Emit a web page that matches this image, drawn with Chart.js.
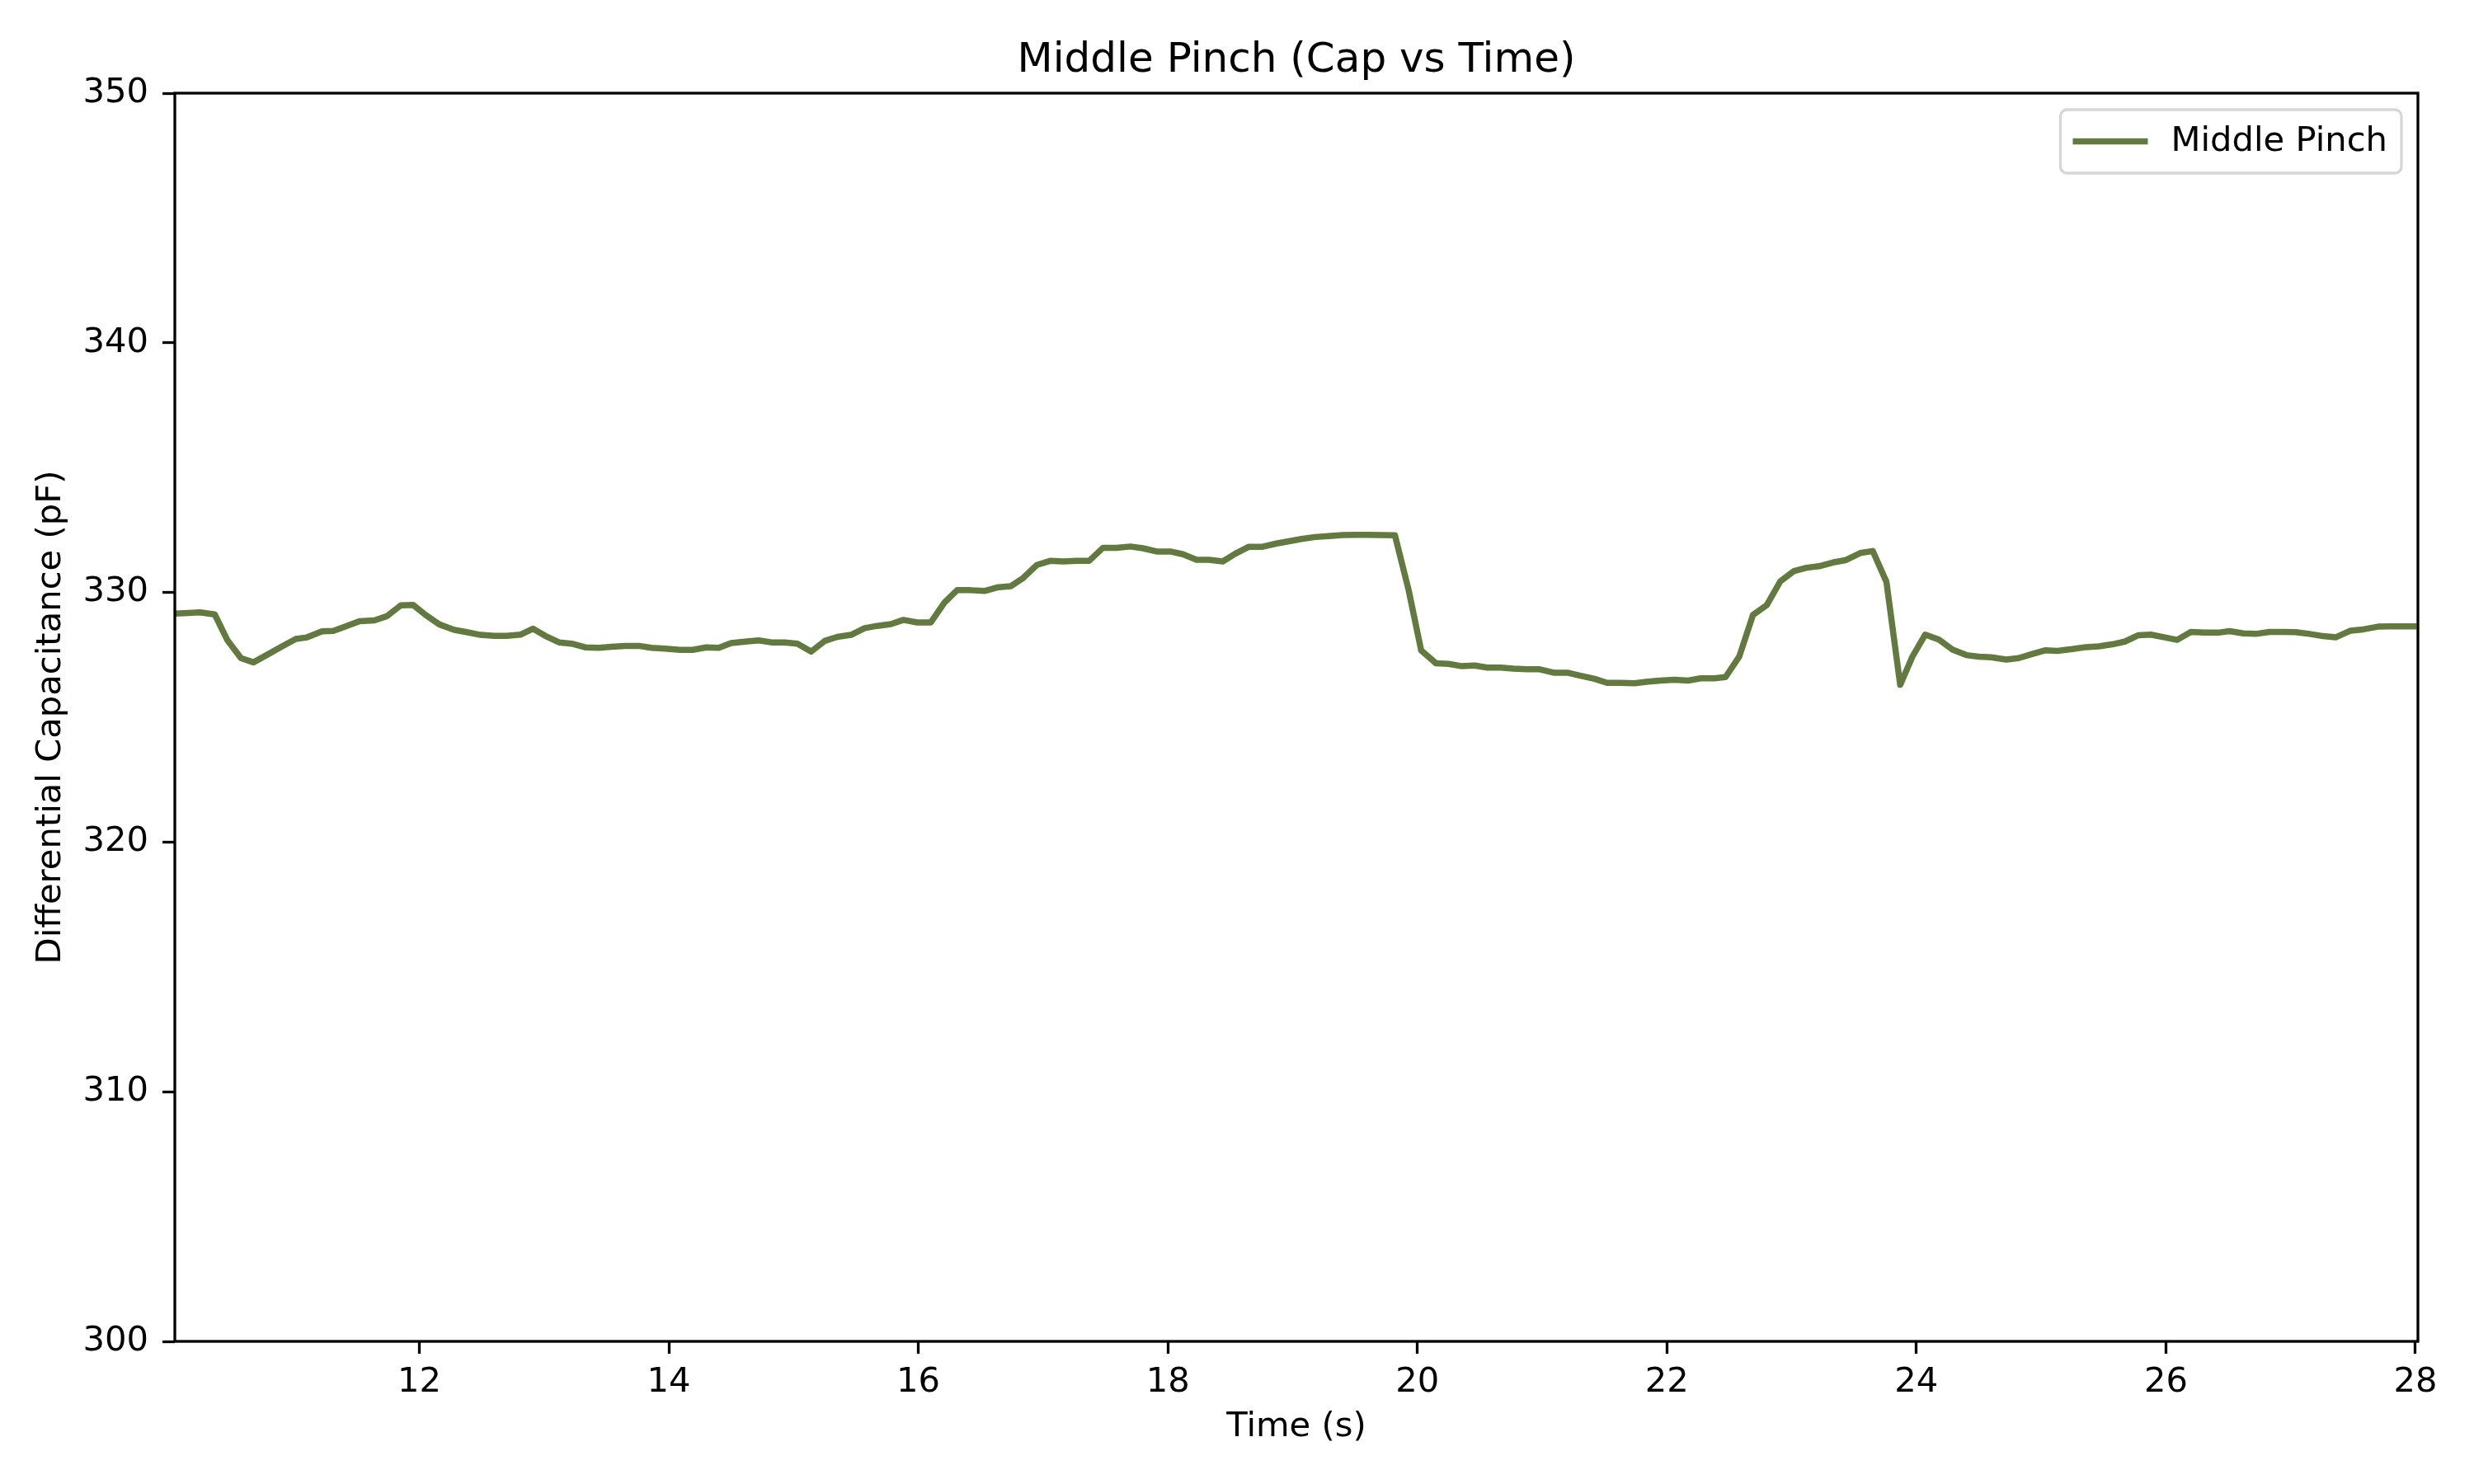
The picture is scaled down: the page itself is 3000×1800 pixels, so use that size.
<!DOCTYPE html>
<html lang="en">
<head>
<meta charset="UTF-8">
<title>Middle Pinch (Cap vs Time)</title>
<script src="https://cdn.jsdelivr.net/npm/chart.js"></script>
<style>
  html, body { margin: 0; padding: 0; background: #fff; }
  canvas { display: block; }
</style>
</head>
<body>
<canvas id="capChart" width="3000" height="1800"></canvas>
<script>
// values
const seriesLabel = 'Middle Pinch';
const timeS = [
  10.04, 10.15, 10.24, 10.36, 10.46, 10.57, 10.67, 10.79, 10.90, 11.01,
  11.10, 11.22, 11.31, 11.41, 11.52, 11.64, 11.74, 11.85, 11.95, 12.05,
  12.16, 12.28, 12.38, 12.49, 12.60, 12.70, 12.81, 12.91, 13.01, 13.12,
  13.22, 13.33, 13.44, 13.54, 13.65, 13.76, 13.86, 13.97, 14.09, 14.19,
  14.30, 14.40, 14.50, 14.61, 14.72, 14.82, 14.93, 15.03, 15.14, 15.25,
  15.35, 15.46, 15.57, 15.67, 15.78, 15.88, 15.99, 16.10, 16.21, 16.31,
  16.42, 16.53, 16.63, 16.74, 16.84, 16.95, 17.06, 17.16, 17.27, 17.37,
  17.48, 17.59, 17.70, 17.80, 17.91, 18.02, 18.12, 18.23, 18.33, 18.44,
  18.54, 18.65, 18.76, 18.87, 18.98, 19.07, 19.18, 19.29, 19.40, 19.50,
  19.61, 19.71, 19.82, 19.93, 20.03, 20.15, 20.25, 20.35, 20.46, 20.56,
  20.67, 20.77, 20.88, 20.98, 21.10, 21.21, 21.30, 21.42, 21.52, 21.63,
  21.74, 21.85, 21.95, 22.06, 22.17, 22.27, 22.38, 22.47, 22.58, 22.69,
  22.80, 22.91, 23.02, 23.12, 23.22, 23.33, 23.43, 23.55, 23.65, 23.76,
  23.87, 23.97, 24.07, 24.18, 24.29, 24.40, 24.50, 24.60, 24.72, 24.82,
  24.92, 25.03, 25.13, 25.25, 25.36, 25.46, 25.57, 25.67, 25.78, 25.88,
  25.99, 26.09, 26.20, 26.31, 26.42, 26.51, 26.62, 26.72, 26.83, 26.94,
  27.04, 27.15, 27.26, 27.36, 27.48, 27.58, 27.70, 27.80, 27.91, 28.01
];
const capPF = [
  329.15, 329.18, 329.20, 329.12, 328.10, 327.37, 327.20, 327.53, 327.84, 328.14,
  328.20, 328.44, 328.46, 328.64, 328.85, 328.88, 329.05, 329.48, 329.50, 329.10,
  328.72, 328.50, 328.41, 328.30, 328.26, 328.26, 328.31, 328.55, 328.26, 328.00,
  327.95, 327.80, 327.78, 327.82, 327.86, 327.86, 327.78, 327.75, 327.70, 327.70,
  327.80, 327.78, 327.97, 328.03, 328.08, 328.00, 328.00, 327.95, 327.63, 328.06,
  328.22, 328.30, 328.57, 328.66, 328.73, 328.90, 328.80, 328.80, 329.60, 330.09,
  330.09, 330.06, 330.20, 330.25, 330.58, 331.10, 331.27, 331.24, 331.27, 331.27,
  331.79, 331.79, 331.84, 331.77, 331.64, 331.64, 331.53, 331.31, 331.31, 331.24,
  331.55, 331.83, 331.83, 331.96, 332.06, 332.14, 332.22, 332.26, 332.30, 332.31,
  332.31, 332.30, 332.29, 330.09, 327.68, 327.16, 327.14, 327.05, 327.07, 326.99,
  326.99, 326.95, 326.92, 326.92, 326.78, 326.78, 326.67, 326.54, 326.38, 326.38,
  326.36, 326.43, 326.47, 326.50, 326.47, 326.56, 326.56, 326.61, 327.43, 329.10,
  329.49, 330.45, 330.86, 330.99, 331.05, 331.20, 331.29, 331.58, 331.66, 330.42,
  326.30, 327.45, 328.31, 328.11, 327.71, 327.49, 327.43, 327.40, 327.31, 327.37,
  327.52, 327.68, 327.66, 327.73, 327.81, 327.84, 327.92, 328.03, 328.29, 328.31,
  328.20, 328.10, 328.42, 328.39, 328.39, 328.45, 328.36, 328.34, 328.42, 328.42,
  328.41, 328.34, 328.25, 328.20, 328.47, 328.52, 328.63, 328.64, 328.64, 328.64
];
const xTicks = [12, 14, 16, 18, 20, 22, 24, 26, 28];
const yTicks = [300, 310, 320, 330, 340, 350];

const lineColor = '#627a40';
const fontFamily = "'DejaVu Sans', 'Liberation Sans', sans-serif";
const baseSize = 41.7;   // 10pt at 300 dpi
const spineWidth = 3.3;

// box round the plot, drawn over the line like matplotlib spines
const framePlugin = {
  id: 'frame',
  afterDatasetsDraw(chart) {
    const { ctx, chartArea: a } = chart;
    ctx.save();
    ctx.strokeStyle = '#000';
    ctx.lineWidth = spineWidth;
    ctx.strokeRect(a.left, a.top, a.right - a.left, a.bottom - a.top);
    ctx.restore();
  }
};

// matplotlib style legend box in the upper right corner
const legendBoxPlugin = {
  id: 'legendBox',
  afterDraw(chart) {
    const { ctx, chartArea: a } = chart;
    const ds = chart.data.datasets[0];
    ctx.save();
    ctx.font = baseSize + 'px ' + fontFamily;
    const textW = ctx.measureText(ds.label).width;
    const right = a.right - 20;
    const top = a.top + 20;
    const h = 77;
    const w = 15 + 91 + 30 + textW + 15;
    const left = right - w;
    const midY = top + h / 2;

    ctx.beginPath();
    ctx.roundRect(left, top, w, h, 8);
    ctx.fillStyle = 'rgba(255,255,255,0.8)';
    ctx.fill();
    ctx.strokeStyle = '#d6d6d6';
    ctx.lineWidth = spineWidth;
    ctx.stroke();

    ctx.beginPath();
    ctx.moveTo(left + 15, midY);
    ctx.lineTo(left + 15 + 91, midY);
    ctx.strokeStyle = ds.borderColor;
    ctx.lineWidth = ds.borderWidth;
    ctx.stroke();

    ctx.fillStyle = '#000';
    ctx.textBaseline = 'middle';
    ctx.textAlign = 'left';
    ctx.fillText(ds.label, left + 15 + 91 + 28, midY + 1);
    ctx.restore();
  }
};

const ctx = document.getElementById('capChart').getContext('2d');
const capChart = new Chart(ctx, {
  type: 'line',
  data: {
    datasets: [{
      label: seriesLabel,
      data: timeS.map((t, i) => ({ x: t, y: capPF[i] })),
      borderColor: lineColor,
      backgroundColor: lineColor,
      borderWidth: 7.5,
      borderJoinStyle: 'round',
      pointRadius: 0,
      tension: 0,
      fill: false
    }]
  },
  options: {
    responsive: false,
    devicePixelRatio: 1,
    animation: false,
    layout: { padding: { left: 0, right: 68, top: 0, bottom: 0 } },
    scales: {
      x: {
        type: 'linear',
        min: 10.04,
        max: 28.02,
        afterBuildTicks: scale => { scale.ticks = xTicks.map(v => ({ value: v })); },
        afterFit: scale => { scale.height = 173; },
        ticks: {
          color: '#000',
          font: { family: fontFamily, size: baseSize },
          padding: 10,
          maxRotation: 0,
          autoSkip: false
        },
        grid: {
          display: true,
          drawOnChartArea: false,
          drawTicks: true,
          tickLength: 15,
          tickWidth: spineWidth,
          tickColor: '#000'
        },
        border: { display: false },
        title: {
          display: true,
          text: 'Time (s)',
          color: '#000',
          font: { family: fontFamily, size: baseSize },
          padding: { top: 0, bottom: 44 }
        }
      },
      y: {
        min: 300,
        max: 350,
        afterBuildTicks: scale => { scale.ticks = yTicks.map(v => ({ value: v })); },
        afterFit: scale => { scale.width = 212; },
        ticks: {
          color: '#000',
          font: { family: fontFamily, size: baseSize },
          padding: 17
        },
        grid: {
          display: true,
          drawOnChartArea: false,
          drawTicks: true,
          tickLength: 15,
          tickWidth: spineWidth,
          tickColor: '#000'
        },
        border: { display: false },
        title: {
          display: true,
          text: 'Differential Capacitance (pF)',
          color: '#000',
          font: { family: fontFamily, size: baseSize },
          padding: { top: 37, bottom: 0 }
        }
      }
    },
    plugins: {
      legend: { display: false },
      tooltip: { enabled: false },
      title: {
        display: true,
        fullSize: false,
        text: 'Middle Pinch (Cap vs Time)',
        color: '#000',
        font: { family: fontFamily, size: 50, weight: 'normal' },
        padding: { top: 44, bottom: 9 }
      }
    }
  },
  plugins: [framePlugin, legendBoxPlugin]
});
</script>
</body>
</html>
